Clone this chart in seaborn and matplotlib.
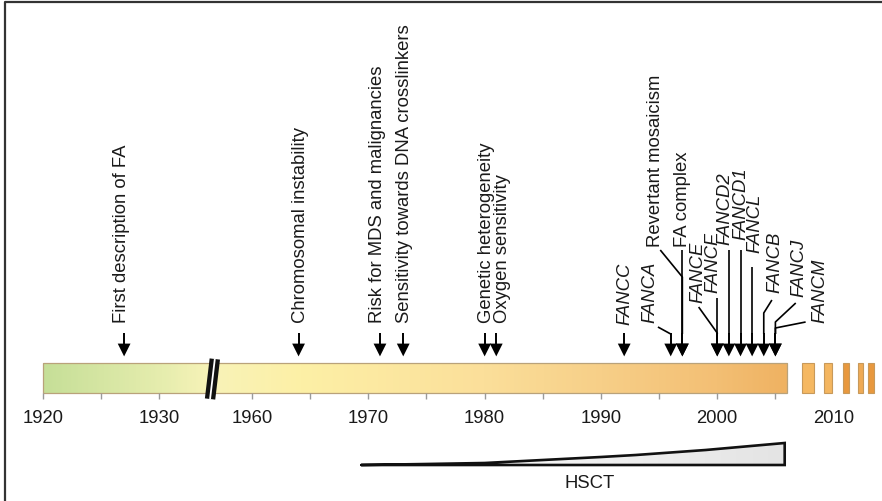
import numpy as np
import matplotlib.pyplot as plt
import seaborn as sns
from matplotlib.colors import LinearSegmentedColormap
from matplotlib.patches import Rectangle, Polygon

sns.set_theme(style='white')
plt.rcParams['font.family'] = ['Liberation Sans', 'DejaVu Sans']

# milestones (clinical / cellular)
event_labels = ['First description of FA', 'Chromosomal instability',
                'Risk for MDS and malignancies', 'Sensitivity towards DNA crosslinkers',
                'Genetic heterogeneity', 'Oxygen sensitivity',
                'Revertant mosaicism', 'FA complex']
event_years = [1927, 1964, 1971, 1973, 1980, 1981, 1997, 1997]

# cloned genes
gene_labels = ['FANCC', 'FANCA', 'FANCE', 'FANCF', 'FANCD2', 'FANCD1',
               'FANCL', 'FANCB', 'FANCJ', 'FANCM']
gene_years = [1992, 1996, 2000, 2000, 2001, 2002, 2003, 2004, 2005, 2005]

tick_years = [1920, 1925, 1930, 1960, 1965, 1970, 1975, 1980, 1985,
              1990, 1995, 2000, 2005]
label_years = [1920, 1930, 1960, 1970, 1980, 1990, 2000, 2010]

# HSCT wedge (thickness grows with time)
hsct_years = [1969.4, 1975, 1980, 1985, 1990, 1993, 1999, 2005.8]
hsct_width = [0, 1, 2, 5, 8, 10, 15, 22]

# dashes after the main bar (ongoing)
dash_start = [2007.3, 2009.2, 2010.8, 2012.1, 2013.0]
dash_end = [2008.3, 2009.9, 2011.3, 2012.5, 2013.5]
dash_colors = ['#f5b862', '#f4b660', '#e8983e', '#efaa55', '#e8983e']

PX = 11.63  # pixels per year


def to_u(year):
    # axis with a break between the 1930s and 1960
    year = np.asarray(year, dtype=float)
    return np.where(year < 1945, year - 1920, year - 1942)


fig = plt.figure(figsize=(8.82, 5.01), dpi=100)
ax = fig.add_axes([0, 0, 1, 1])
ax.set_xlim(-42.7 / PX, (882 - 42.7) / PX)
ax.set_ylim(501, 0)
ax.axis('off')

# frame (only left and top visible)
ax.plot([0.0057, 0.0057, 1.0], [0.0, 0.996, 0.996], transform=ax.transAxes,
        color='#333333', lw=1.6, clip_on=False)

# gradient bar
bar_top, bar_bot = 363, 393
stops_u = np.array([0, 10.1, 14.4, 22.1, 38.0, 48.1, 58.0, 64.0])
stop_cols = ['#c6df98', '#e6edae', '#f8f3b8', '#fdf0a6', '#fbdf9a', '#f7cf88', '#f3bf74', '#efb262']
cmap = LinearSegmentedColormap.from_list('tl', list(zip(stops_u / stops_u[-1], stop_cols)))
bar_end = float(to_u(2006))
ax.imshow(np.linspace(0, 1, 400)[None, :], cmap=cmap, aspect='auto',
          extent=[0, bar_end, bar_bot, bar_top], zorder=1)
ax.add_patch(Rectangle((0, bar_top), bar_end, bar_bot - bar_top, fill=False,
                       ec='#b9a27a', lw=0.9, zorder=2))
for s, e, c in zip(dash_start, dash_end, dash_colors):
    ax.add_patch(Rectangle((float(to_u(s)), bar_top), float(to_u(e) - to_u(s)), bar_bot - bar_top,
                           fc=c, ec='#c8995a', lw=0.8, zorder=2))

# axis break
ax.plot([14.8, 14.39], [359, 399], color='#111111', lw=7.5, solid_capstyle='butt', zorder=3)
ax.plot([14.8, 14.39], [359, 399], color='white', lw=1.3, solid_capstyle='butt', zorder=4)

# ticks and labels
ax.vlines(to_u(tick_years), bar_bot, bar_bot + 6, color='#9a9a9a', lw=1.0)
for y in label_years:
    ax.text(float(to_u(y)), 423, str(y), ha='center', va='baseline', fontsize=13.3, color='#1a1a1a')

# arrows
arrow_u = to_u(event_years + gene_years)
ax.vlines(arrow_u, 333, 346, color='black', lw=1.4)
sns.scatterplot(x=arrow_u, y=np.full(len(arrow_u), 350.0), marker='v', s=85,
                color='black', edgecolor='none', ax=ax, zorder=5, legend=False)

# event labels: offset from arrow (years), bottom of text (px)
event_dx = [-0.2, 0.2, -0.2, 0.1, 0.15, 0.5, -2.3, 0.0]
event_bottom = [323, 323, 323, 323, 323, 323, 247, 247]
for lab, yr, dx, b in zip(event_labels, event_years, event_dx, event_bottom):
    ax.text(float(to_u(yr)) + dx, b, lab, rotation=90, ha='center', va='bottom',
            fontsize=13.3, color='#1a1a1a')

gene_dx = [0.05, -1.8, -1.7, -0.4, -0.3, 0.0, 0.25, 0.95, 2.05, 3.8]
gene_bottom = [325, 323, 303, 293, 245, 240, 253, 293, 297, 323]
for lab, yr, dx, b in zip(gene_labels, gene_years, gene_dx, gene_bottom):
    ax.text(float(to_u(yr)) + dx, b, lab, rotation=90, ha='center', va='bottom',
            fontsize=13.3, style='italic', color='#1a1a1a')

# leader lines: (start offset in years, start y, elbow y) relative to arrow
leaders = [
    ('FANCA', 1996, -1.1, 327, 334),
    ('Revertant mosaicism', 1997, -1.9, 250, 277),
    ('FA complex', 1997, 0.0, 250, 333),
    ('FANCE', 2000, -1.6, 307, 333),
    ('FANCF', 2000, 0.0, 298, 333),
    ('FANCD2', 2001, 0.0, 250, 333),
    ('FANCD1', 2002, 0.0, 250, 333),
    ('FANCL', 2003, 0.0, 267, 333),
    ('FANCB', 2004, 0.7, 300, 313),
    ('FANCJ', 2005, 1.75, 303, 322),
    ('FANCM', 2005, 2.6, 322, 328),
]
for _, yr, sdx, sy, ey in leaders:
    u = float(to_u(yr))
    ax.plot([u + sdx, u, u], [sy, ey, 334], color='black', lw=1.2, solid_capstyle='butt')

# HSCT wedge
hu = to_u(hsct_years)
base = 465
top = base - np.array(hsct_width, dtype=float)
poly = Polygon(np.column_stack([np.r_[hu, hu[-1]], np.r_[top, base]]), closed=True,
               fc='none', ec='none')
ax.add_patch(poly)
grad = LinearSegmentedColormap.from_list('g', ['#ffffff', '#e4e4e4'])
im = ax.imshow(np.linspace(0, 1, 200)[None, :], cmap=grad, aspect='auto',
               extent=[hu[0], hu[-1], base, base - 23], zorder=1)
im.set_clip_path(poly)
ax.plot(np.r_[hu, hu[-1], hu[0]], np.r_[top, base, base], color='#111111', lw=1.9,
        solid_joinstyle='miter')
ax.text(float(to_u(1989)), 488, 'HSCT', ha='center', va='baseline', fontsize=13.3, color='#1a1a1a')

fig.savefig('out.png', dpi=100)
